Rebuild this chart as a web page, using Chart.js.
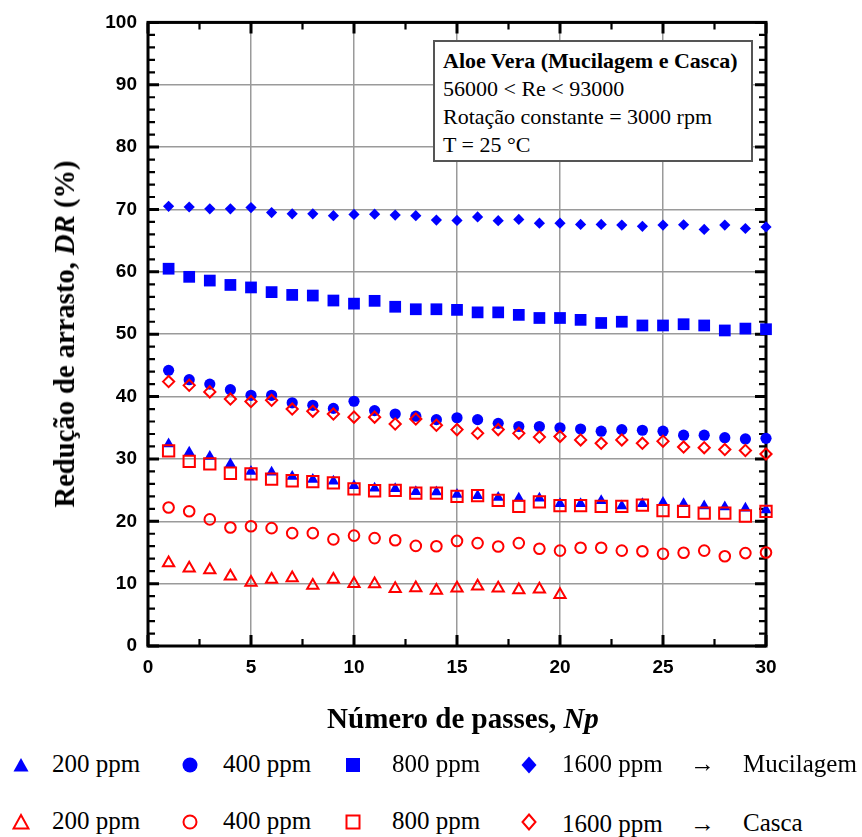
<!DOCTYPE html>
<html>
<head>
<meta charset="utf-8">
<script src="https://cdn.jsdelivr.net/npm/chart.js@4.4.1/dist/chart.umd.min.js"></script>
<style>
  html, body { margin: 0; padding: 0; background: #fff; }
  #wrap { position: relative; width: 862px; height: 837px; overflow: hidden; font-family: 'Liberation Serif', 'Times New Roman', serif; color: #000; }
  #c { position: absolute; left: 0; top: 0; }
  .abs { position: absolute; white-space: nowrap; }
  #ytitle { left: 65px; top: 334px; transform: translate(-50%, -50%) rotate(-90deg); font-weight: bold; font-size: 28.6px; }
  #xtitle { left: 463px; top: 718px; transform: translate(-50%, -50%); font-weight: bold; font-size: 29px; }
  #note { left: 433px; top: 40px; width: 316px; height: 118px; border: 2px solid #555; background: #fff; box-sizing: content-box; padding: 0; }
  #note div { font-size: 22px; line-height: 28px; padding-left: 8px; }
  #note div:first-child { font-weight: bold; margin-top: 5px; }
  .lt { font-size: 25px; line-height: 30px; height: 30px; }
  .mk { position: absolute; }
</style>
</head>
<body>
<div id="wrap">
  <canvas id="c" width="862" height="740"></canvas>
  <div id="ytitle" class="abs">Redução de arrasto, <i>DR</i> (%)</div>
  <div id="xtitle" class="abs">Número de passes, <i>Np</i></div>
  <div id="note" class="abs">
    <div>Aloe Vera (Mucilagem e Casca)</div>
    <div>56000 &lt; Re &lt; 93000</div>
    <div>Rotação constante = 3000 rpm</div>
    <div>T = 25 °C</div>
  </div>
  <div id="legend"></div>
</div>
<script>
// ---- data ----
const passes = [1,2,3,4,5,6,7,8,9,10,11,12,13,14,15,16,17,18,19,20,21,22,23,24,25,26,27,28,29,30];
const mucil200 = [32.4,31.05,30.4,29.2,28.0,27.85,27.2,26.7,26.4,25.7,25.3,25.2,24.75,24.7,24.3,24.1,23.8,23.7,23.7,22.8,22.8,23.3,22.45,22.8,23.0,22.8,22.45,22.3,22.1,21.8];
const mucil400 = [44.2,42.7,42.0,41.1,40.2,40.2,39.0,38.6,38.1,39.25,37.75,37.2,36.85,36.3,36.6,36.3,35.7,35.2,35.2,35.0,34.8,34.45,34.7,34.6,34.45,33.8,33.8,33.4,33.2,33.3];
const mucil800 = [60.5,59.2,58.6,57.9,57.5,56.75,56.3,56.2,55.4,54.9,55.35,54.4,54.0,54.0,53.9,53.5,53.5,53.1,52.6,52.6,52.3,51.8,52.0,51.4,51.4,51.6,51.4,50.6,50.9,50.8];
const mucil1600 = [70.5,70.4,70.1,70.1,70.3,69.5,69.3,69.3,69.0,69.2,69.25,69.1,69.0,68.3,68.25,68.8,68.2,68.4,67.8,67.8,67.6,67.6,67.5,67.3,67.5,67.55,66.8,67.5,66.95,67.2];
const casca200 = [13.3,12.45,12.2,11.2,10.2,10.65,10.9,9.7,10.65,10.0,9.95,9.2,9.3,8.9,9.25,9.6,9.25,9.0,9.1,8.2];
const casca400 = [22.2,21.6,20.3,19.0,19.2,18.9,18.1,18.1,17.1,17.7,17.3,16.95,16.05,16.0,16.85,16.5,15.95,16.5,15.6,15.3,15.75,15.75,15.3,15.2,14.8,14.95,15.3,14.4,14.9,15.0];
const casca800 = [31.3,29.6,29.2,27.7,27.6,26.75,26.5,26.35,26.15,25.2,24.9,24.95,24.5,24.5,24.0,24.1,23.35,22.4,23.1,22.5,22.5,22.4,22.4,22.6,21.7,21.6,21.3,21.3,20.85,21.6];
const casca1600 = [42.4,41.8,40.75,39.6,39.2,39.4,38.0,37.65,37.2,36.7,36.7,35.6,36.4,35.4,34.7,34.1,34.7,34.1,33.5,33.6,33.05,32.5,33.05,32.5,32.85,31.9,31.8,31.5,31.35,30.8];
const concLabels = ['200 ppm','400 ppm','800 ppm','1600 ppm'];
const groupLabels = ['Mucilagem','Casca'];
const xTickMin = 0, xTickMax = 30, xStep = 5, xMinorStep = 2.5;
const yTickMin = 0, yTickMax = 100, yStep = 10, yMinorStep = 2;

const BLUE = '#0000ff', RED = '#ff0000';
const pts = vals => vals.map((v, i) => ({ x: passes[i], y: v }));

function ds(label, vals, shape, r, filled) {
  return {
    label, data: pts(vals), showLine: false, clip: false,
    pointStyle: shape, pointRadius: r, pointHoverRadius: r,
    pointBackgroundColor: filled ? BLUE : 'rgba(0,0,0,0)',
    pointBorderColor: filled ? BLUE : RED,
    pointBorderWidth: filled ? 0 : 2,
    order: filled ? 2 : 1
  };
}

const datasets = [
  ds('Mucilagem ' + concLabels[0], mucil200, 'triangle', 6.5, true),
  ds('Mucilagem ' + concLabels[1], mucil400, 'circle', 5.6, true),
  ds('Mucilagem ' + concLabels[2], mucil800, 'rect', 8.3, true),
  ds('Mucilagem ' + concLabels[3], mucil1600, 'rectRot', 5.6, true),
  ds('Casca ' + concLabels[0], casca200, 'triangle', 6.5, false),
  ds('Casca ' + concLabels[1], casca400, 'circle', 5.3, false),
  ds('Casca ' + concLabels[2], casca800, 'rect', 8.0, false),
  ds('Casca ' + concLabels[3], casca1600, 'rectRot', 5.6, false)
];

const framePlugin = {
  id: 'frame',
  beforeDatasetsDraw(chart) {
    const { ctx, chartArea: a, scales: { x, y } } = chart;
    ctx.save();
    ctx.strokeStyle = '#000';
    ctx.lineCap = 'butt';
    ctx.lineWidth = 2.2;
    ctx.beginPath();
    for (let v = yTickMin; v <= yTickMax + 1e-9; v += yMinorStep) {
      if (Math.abs(v % yStep) < 1e-9) continue;
      const p = y.getPixelForValue(v);
      ctx.moveTo(a.left, p); ctx.lineTo(a.left + 7, p);
      ctx.moveTo(a.right, p); ctx.lineTo(a.right - 7, p);
    }
    for (let v = xTickMin; v <= xTickMax + 1e-9; v += xMinorStep) {
      if (Math.abs(v % xStep) < 1e-9) continue;
      const p = x.getPixelForValue(v);
      ctx.moveTo(p, a.top); ctx.lineTo(p, a.top + 7);
      ctx.moveTo(p, a.bottom); ctx.lineTo(p, a.bottom - 7);
    }
    ctx.stroke();
    ctx.lineWidth = 3;
    ctx.beginPath();
    y.ticks.forEach(t => {
      const p = y.getPixelForValue(t.value);
      ctx.moveTo(a.left, p); ctx.lineTo(a.left + 11, p);
      ctx.moveTo(a.right, p); ctx.lineTo(a.right - 11, p);
    });
    x.ticks.forEach(t => {
      const p = x.getPixelForValue(t.value);
      ctx.moveTo(p, a.top); ctx.lineTo(p, a.top + 11);
      ctx.moveTo(p, a.bottom); ctx.lineTo(p, a.bottom - 11);
    });
    ctx.stroke();
    ctx.lineWidth = 3;
    ctx.strokeRect(a.left, a.top, a.right - a.left, a.bottom - a.top);
    ctx.restore();
  }
};

const tickFont = { family: "'Liberation Sans', Arial, sans-serif", size: 19, weight: 'bold' };

new Chart(document.getElementById('c'), {
  type: 'scatter',
  data: { datasets },
  plugins: [framePlugin],
  options: {
    responsive: false,
    animation: false,
    events: [],
    layout: { padding: { left: 0, top: 21, right: 96, bottom: 0 } },
    plugins: { legend: { display: false }, tooltip: { enabled: false } },
    scales: {
      x: {
        type: 'linear', min: xTickMin, max: xTickMax,
        ticks: { stepSize: xStep, color: '#000', font: tickFont, padding: 10, maxRotation: 0 },
        grid: { color: '#9a9a9a', lineWidth: 1.5, drawTicks: false },
        border: { display: false },
        afterFit(s) { s.height = 94; }
      },
      y: {
        type: 'linear', min: yTickMin, max: yTickMax,
        ticks: { stepSize: yStep, color: '#000', font: tickFont, padding: 11 },
        grid: { color: '#9a9a9a', lineWidth: 1.5, drawTicks: false },
        border: { display: false },
        afterFit(s) { s.width = 148; }
      }
    }
  }
});

// ---- legend (HTML, real text) ----
const wrap = document.getElementById('wrap');
function shapeSVG(shape, filled) {
  const fill = filled ? BLUE : 'none';
  const stroke = filled ? BLUE : RED;
  const sw = filled ? 0 : 2;
  let el = '';
  if (shape === 'triangle') el = `<polygon points="9,2 16.5,15.5 1.5,15.5" fill="${fill}" stroke="${stroke}" stroke-width="${sw}"/>`;
  if (shape === 'circle') el = `<circle cx="9" cy="9" r="${filled ? 7.5 : 6.5}" fill="${fill}" stroke="${stroke}" stroke-width="${sw}"/>`;
  if (shape === 'rect') el = `<rect x="${filled ? 2 : 2.5}" y="${filled ? 2 : 2.5}" width="${filled ? 14 : 13}" height="${filled ? 14 : 13}" fill="${fill}" stroke="${stroke}" stroke-width="${sw}"/>`;
  if (shape === 'rectRot') el = `<polygon points="9,${filled ? 0.5 : 1.5} ${filled ? 16.5 : 15.5},9 9,${filled ? 17.5 : 16.5} ${filled ? 1.5 : 2.5},9" fill="${fill}" stroke="${stroke}" stroke-width="${sw}"/>`;
  return `<svg width="18" height="18" viewBox="0 0 18 18">${el}</svg>`;
}
const shapes = ['triangle','circle','rect','rectRot'];
const markerX = [21, 190, 353, 529];
const textX = [52, 223, 392, 562];
const rowY = [765, 822];
groupLabels.forEach((g, r) => {
  shapes.forEach((s, i) => {
    const m = document.createElement('div');
    m.className = 'mk';
    m.style.left = (markerX[i] - 9) + 'px';
    m.style.top = (rowY[r] - 9) + 'px';
    m.innerHTML = shapeSVG(s, r === 0);
    wrap.appendChild(m);
    const t = document.createElement('div');
    t.className = 'abs lt';
    t.style.left = textX[i] + 'px';
    t.style.top = (rowY[r] - 16 + (r === 1 && i === 3 ? 3 : 0)) + 'px';
    t.textContent = concLabels[i];
    wrap.appendChild(t);
  });
  const arrow = document.createElement('div');
  arrow.className = 'abs lt';
  arrow.style.left = '690px';
  arrow.style.top = (rowY[r] - 16 + (r === 1 ? 3 : 0)) + 'px';
  arrow.textContent = '→';
  wrap.appendChild(arrow);
  const gl = document.createElement('div');
  gl.className = 'abs lt';
  gl.style.left = '743px';
  gl.style.top = (rowY[r] - 16 + (r === 1 ? 2 : 0)) + 'px';
  gl.textContent = g;
  wrap.appendChild(gl);
});
</script>
</body>
</html>
